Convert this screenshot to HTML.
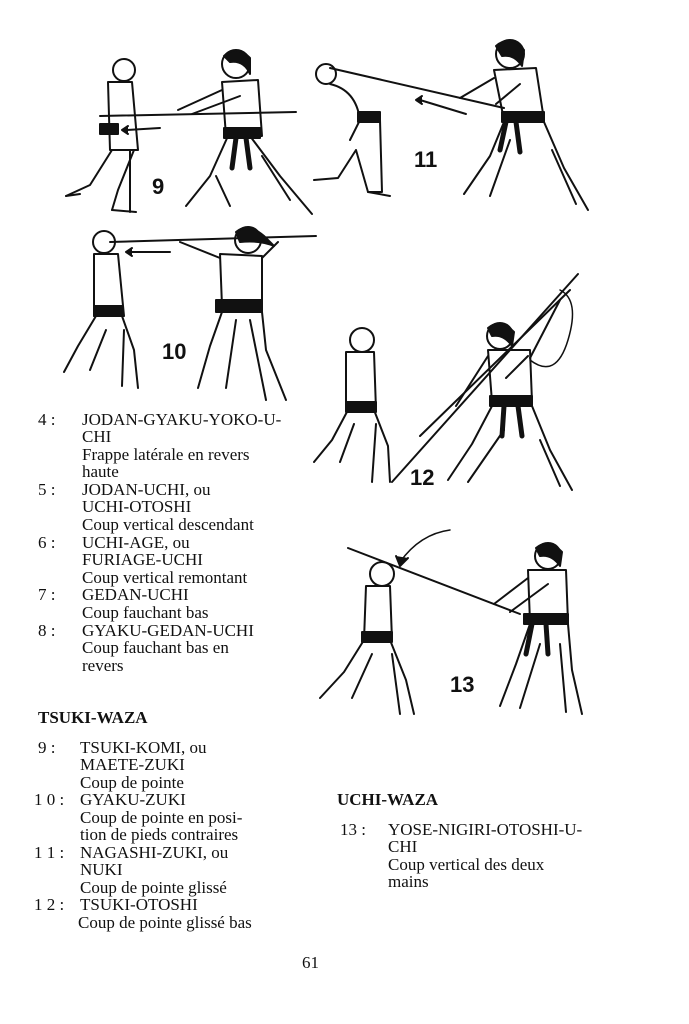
<!DOCTYPE html>
<html><head><meta charset="utf-8"><style>
body{margin:0;background:#fff;}
#p{position:relative;width:689px;height:1024px;overflow:hidden;background:#fff;font-family:"Liberation Serif",serif;font-size:17px;color:#111;}
.t{position:absolute;white-space:nowrap;line-height:18px;}
.b{font-weight:bold;}
svg{position:absolute;left:0;top:0;}
</style></head><body><div id="p">
<svg width="689" height="1024" viewBox="0 0 689 1024" fill="none" stroke="#111" stroke-width="2" stroke-linecap="round" stroke-linejoin="round">
<g>
<circle cx="124" cy="70" r="11"/>
<path d="M108 82 L132 82 L138 150 L110 150 Z"/>
<path d="M112 150 L90 185 L66 196 M134 150 L118 190 L112 210 M112 150 L130 150 L130 212"/>
<path d="M66 196 L80 194 M112 210 L136 212"/>
<rect x="100" y="124" width="18" height="10" fill="#111"/>
<line x1="100" y1="116" x2="296" y2="112"/>
<circle cx="236" cy="64" r="14"/><path d="M224 56 Q236 44 250 58 L250 74 Q244 60 230 62Z" fill="#111"/>
<path d="M222 82 L258 80 L262 136 L226 136 Z"/>
<path d="M222 90 L178 110 M240 96 L192 114"/>
<path d="M228 136 L210 176 L186 206 M250 136 L280 176 L312 214"/>
<path d="M216 176 L230 206 M262 156 L290 200"/>
<rect x="224" y="128" width="36" height="10" fill="#111"/>
<path d="M236 138 L232 168 M246 138 L250 168" stroke-width="5"/>
<line x1="126" y1="130" x2="160" y2="128"/><path d="M128 126 L122 130 L128 134" fill="#111"/>
</g>
<text x="152" y="194" font-family="Liberation Sans" font-weight="bold" font-size="22" fill="#111" stroke="none">9</text>
<g>
<circle cx="326" cy="74" r="10"/>
<path d="M330 84 Q356 90 360 120 L380 120 L382 192 L368 192 L356 150 L338 178 L314 180"/>
<path d="M360 120 L350 140"/>
<rect x="358" y="112" width="22" height="10" fill="#111"/>
<path d="M368 192 L390 196"/>
<line x1="330" y1="68" x2="504" y2="108"/>
<circle cx="510" cy="54" r="14"/><path d="M496 46 Q510 34 524 50 L522 66 Q514 54 502 56Z" fill="#111"/>
<path d="M494 70 L536 68 L544 120 L504 120 Z"/>
<path d="M494 78 L460 98 M520 84 L496 104"/>
<rect x="502" y="112" width="42" height="10" fill="#111"/>
<path d="M506 122 L500 150 M516 122 L520 152" stroke-width="5"/>
<path d="M504 122 L490 156 L464 194 M544 122 L564 168 L588 210 M510 140 L490 196 M552 150 L576 204"/>
<path d="M420 100 L466 114"/><path d="M422 96 L416 100 L422 104" fill="#111"/>
</g>
<text x="414" y="167" font-family="Liberation Sans" font-weight="bold" font-size="22" fill="#111" stroke="none">11</text>
<g>
<circle cx="104" cy="242" r="11"/>
<path d="M94 254 L118 254 L124 316 L94 316 Z"/>
<path d="M96 316 L78 346 L64 372 M122 316 L134 350 L138 388 M106 330 L90 370 M124 330 L122 386"/>
<rect x="94" y="306" width="28" height="10" fill="#111"/>
<line x1="110" y1="242" x2="316" y2="236"/>
<path d="M130 252 L170 252"/><path d="M132 248 L126 252 L132 256" fill="#111"/>
<circle cx="248" cy="240" r="13"/><path d="M236 232 Q248 222 264 236 L274 246 Q260 240 240 242Z" fill="#111"/>
<path d="M220 254 L262 256 L262 306 L222 306 Z"/>
<path d="M220 258 L180 242 M262 258 L278 242"/>
<rect x="216" y="300" width="46" height="12" fill="#111"/>
<path d="M222 312 L210 346 L198 388 M262 312 L266 350 L286 400 M236 320 L226 388 M250 320 L266 400"/>
</g>
<text x="162" y="359" font-family="Liberation Sans" font-weight="bold" font-size="22" fill="#111" stroke="none">10</text>
<g>
<circle cx="362" cy="340" r="12"/>
<path d="M346 352 L374 352 L376 410 L346 410 Z"/>
<path d="M348 410 L332 440 L314 462 M374 410 L388 446 L390 482 M354 424 L340 462 M376 424 L372 482"/>
<rect x="346" y="402" width="30" height="10" fill="#111"/>
<line x1="392" y1="482" x2="578" y2="274"/>
<line x1="420" y1="436" x2="570" y2="290"/>
<circle cx="500" cy="336" r="13"/><path d="M488 328 Q500 318 514 332 L512 346 Q504 334 492 336Z" fill="#111"/>
<path d="M488 350 L530 350 L532 402 L492 402 Z"/>
<path d="M488 356 L456 406 M530 358 L560 300"/>
<rect x="490" y="396" width="42" height="10" fill="#111"/>
<path d="M504 406 L502 436 M518 406 L522 436" stroke-width="5"/>
<path d="M492 406 L472 444 L448 480 M532 406 L550 450 L572 490 M504 430 L468 482 M540 440 L560 486"/>
<path d="M560 290 Q580 300 568 340 Q556 380 530 360" stroke-width="1.5"/>
<path d="M506 378 L528 356"/>
</g>
<text x="410" y="485" font-family="Liberation Sans" font-weight="bold" font-size="22" fill="#111" stroke="none">12</text>
<g>
<path d="M400 562 Q420 534 450 530" stroke-width="1.5"/><path d="M396 556 L400 566 L408 558" fill="#111"/>
<line x1="348" y1="548" x2="520" y2="614"/>
<circle cx="382" cy="574" r="12"/>
<path d="M366 586 L390 586 L392 640 L364 640 Z"/>
<path d="M364 640 L344 672 L320 698 M390 640 L406 680 L414 714 M372 654 L352 698 M392 654 L400 714"/>
<rect x="362" y="632" width="30" height="10" fill="#111"/>
<circle cx="548" cy="556" r="13"/><path d="M536 548 Q548 538 562 552 L560 566 Q552 554 540 556Z" fill="#111"/>
<path d="M528 570 L566 570 L568 622 L530 622 Z"/>
<path d="M528 578 L494 604 M548 584 L510 612"/>
<rect x="524" y="614" width="44" height="10" fill="#111"/>
<path d="M532 624 L526 654 M546 624 L548 654" stroke-width="5"/>
<path d="M530 624 L516 664 L500 706 M568 624 L572 670 L582 714 M540 644 L520 708 M560 644 L566 712"/>
</g>
<text x="450" y="692" font-family="Liberation Sans" font-weight="bold" font-size="22" fill="#111" stroke="none">13</text>
</svg>

<div class="t" style="left:38px;top:411px">4 :</div>
<div class="t" style="left:82px;top:411px">JODAN-GYAKU-YOKO-U-</div>
<div class="t" style="left:82px;top:428px">CHI</div>
<div class="t" style="left:82px;top:446px">Frappe latérale en revers</div>
<div class="t" style="left:82px;top:463px">haute</div>
<div class="t" style="left:38px;top:481px">5 :</div>
<div class="t" style="left:82px;top:481px">JODAN-UCHI, ou</div>
<div class="t" style="left:82px;top:498px">UCHI-OTOSHI</div>
<div class="t" style="left:82px;top:516px">Coup vertical descendant</div>
<div class="t" style="left:38px;top:534px">6 :</div>
<div class="t" style="left:82px;top:534px">UCHI-AGE, ou</div>
<div class="t" style="left:82px;top:551px">FURIAGE-UCHI</div>
<div class="t" style="left:82px;top:569px">Coup vertical remontant</div>
<div class="t" style="left:38px;top:586px">7 :</div>
<div class="t" style="left:82px;top:586px">GEDAN-UCHI</div>
<div class="t" style="left:82px;top:604px">Coup fauchant bas</div>
<div class="t" style="left:38px;top:622px">8 :</div>
<div class="t" style="left:82px;top:622px">GYAKU-GEDAN-UCHI</div>
<div class="t" style="left:82px;top:639px">Coup fauchant bas en</div>
<div class="t" style="left:82px;top:657px">revers</div>

<div class="t b" style="left:38px;top:709px">TSUKI-WAZA</div>
<div class="t" style="left:38px;top:739px">9 :</div>
<div class="t" style="left:80px;top:739px">TSUKI-KOMI, ou</div>
<div class="t" style="left:80px;top:756px">MAETE-ZUKI</div>
<div class="t" style="left:80px;top:774px">Coup de pointe</div>
<div class="t" style="left:34px;top:791px">1 0 :</div>
<div class="t" style="left:80px;top:791px">GYAKU-ZUKI</div>
<div class="t" style="left:80px;top:809px">Coup de pointe en posi-</div>
<div class="t" style="left:80px;top:826px">tion de pieds contraires</div>
<div class="t" style="left:34px;top:844px">1 1 :</div>
<div class="t" style="left:80px;top:844px">NAGASHI-ZUKI, ou</div>
<div class="t" style="left:80px;top:861px">NUKI</div>
<div class="t" style="left:80px;top:879px">Coup de pointe glissé</div>
<div class="t" style="left:34px;top:896px">1 2 :</div>
<div class="t" style="left:80px;top:896px">TSUKI-OTOSHI</div>
<div class="t" style="left:78px;top:914px">Coup de pointe glissé bas</div>

<div class="t b" style="left:337px;top:791px">UCHI-WAZA</div>
<div class="t" style="left:340px;top:821px">13 :</div>
<div class="t" style="left:388px;top:821px">YOSE-NIGIRI-OTOSHI-U-</div>
<div class="t" style="left:388px;top:838px">CHI</div>
<div class="t" style="left:388px;top:856px">Coup vertical des deux</div>
<div class="t" style="left:388px;top:873px">mains</div>

<div class="t" style="left:302px;top:954px">61</div>
</div></body></html>
